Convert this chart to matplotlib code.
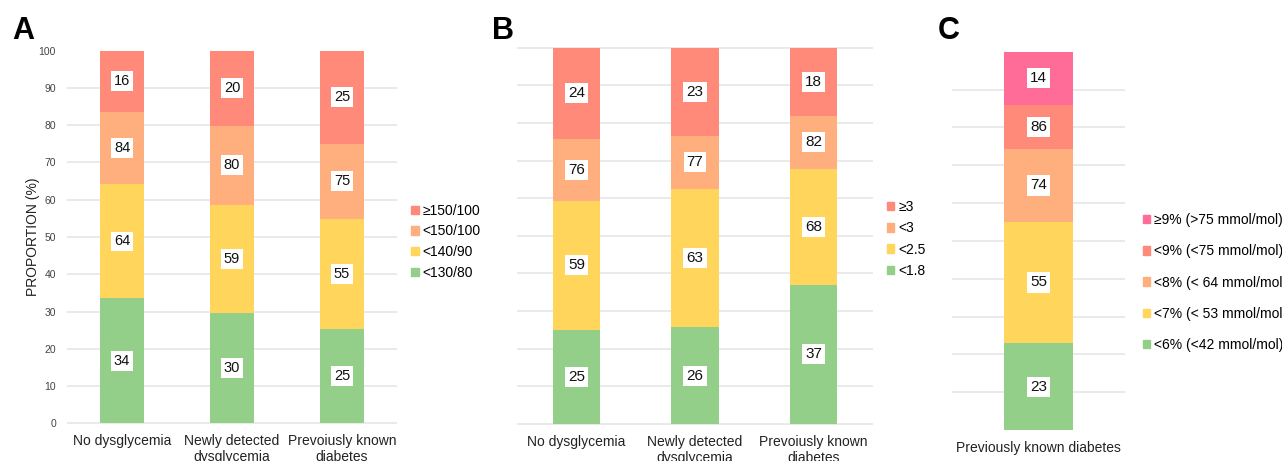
import matplotlib
matplotlib.use("Agg")
import matplotlib.pyplot as plt
from matplotlib.patches import Patch

plt.rcParams["font.family"] = ["Liberation Sans", "DejaVu Sans"]

# ------------------------------------------------
# Data (cumulative tops of each stacked segment, %)
# ------------------------------------------------
groups = ["No dysglycemia", "Newly detected\ndysglycemia", "Prevoiusly known\ndiabetes"]

# A: blood pressure
bp_names = ["<130/80", "<140/90", "<150/100", "\u2265150/100"]
bp_tops = [
    [33.5, 29.6, 25.3],
    [64.1, 58.7, 54.9],
    [83.6, 79.8, 75.0],
    [100, 100, 100],
]
bp_labels = [[34, 30, 25], [64, 59, 55], [84, 80, 75], [16, 20, 25]]

# B: LDL cholesterol
ldl_names = ["<1.8", "<2.5", "<3", "\u22653"]
ldl_tops = [
    [25.0, 25.7, 37.0],
    [59.3, 62.4, 67.8],
    [75.7, 76.6, 81.9],
    [100, 100, 100],
]
ldl_labels = [[25, 26, 37], [59, 63, 68], [76, 77, 82], [24, 23, 18]]

# C: HbA1c in previously known diabetes
c_group = ["Previously known diabetes"]
hba1c_names = ["<6% (<42 mmol/mol)", "<7% (< 53 mmol/mol)", "<8% (< 64 mmol/mol)",
               "<9% (<75 mmol/mol)", "\u22659% (>75 mmol/mol)"]
hba1c_tops = [22.9, 55.1, 74.2, 86.0, 100]
hba1c_labels = [23, 55, 74, 86, 14]

green, yellow, orange, red, pink = "#93CF89", "#FFD65B", "#FFAE7E", "#FF8A79", "#FF6C98"
grid_col = "#E4E4E4"


def stacked(ax, cats, tops, labels, colors, width, fs):
    x = list(range(len(cats)))
    bottom = [0] * len(cats)
    for top, labs, col in zip(tops, labels, colors):
        h = [t - b for t, b in zip(top, bottom)]
        ax.bar(x, h, width, bottom=bottom, color=col, zorder=2)
        for xi, b, hi, lab in zip(x, bottom, h, labs):
            ax.text(xi, b + hi / 2, str(lab), ha="center", va="center", fontsize=fs,
                    color="#111111", zorder=3,
                    bbox=dict(boxstyle="square,pad=0.2", fc="white", ec="none"))
        bottom = top
    ax.set_xlim(-0.5, len(cats) - 0.5)
    ax.set_ylim(0, 100)
    ax.set_xticks(x)
    ax.set_xticklabels(cats, fontsize=10, color="#222222", linespacing=1.15)
    ax.tick_params(axis="x", length=0, pad=8)
    for s in ax.spines.values():
        s.set_visible(False)


fig = plt.figure(figsize=(12.82, 4.61), dpi=100)

# ---- Panel A ----
axA = fig.add_axes([0.0523, 0.0818, 0.2574, 0.8083])
stacked(axA, groups, bp_tops, bp_labels, [green, yellow, orange, red], 0.4, 10.5)
axA.hlines(range(0, 100, 10), -0.5, 2.5, color=grid_col, lw=1.1, zorder=1, clip_on=False)
axA.set_yticks(range(0, 101, 10))
axA.tick_params(axis="y", length=0, pad=8, labelsize=7.5, labelcolor="#444444")
axA.set_ylabel("PROPORTION (%)", fontsize=10, color="#222222", labelpad=-1)
handles = [Patch(color=c, label=n) for c, n in zip([red, orange, yellow, green], bp_names[::-1])]
fig.legend(handles=handles, loc="center left", bbox_to_anchor=(0.3205, 0.4755), frameon=False,
           fontsize=10, handlelength=0.55, handleheight=0.55, handletextpad=0.3,
           labelspacing=0.48, borderpad=0, borderaxespad=0)

# ---- Panel B ----
axB = fig.add_axes([0.4033, 0.0803, 0.2777, 0.8163])
stacked(axB, groups, ldl_tops, ldl_labels, [green, yellow, orange, red], 0.4, 11)
axB.hlines(range(0, 101, 10), -0.5, 2.5, color=grid_col, lw=1.1, zorder=1, clip_on=False)
axB.set_yticks([])
handles = [Patch(color=c, label=n) for c, n in zip([red, orange, yellow, green], ldl_names[::-1])]
fig.legend(handles=handles, loc="center left", bbox_to_anchor=(0.6915, 0.4816), frameon=False,
           fontsize=10, handlelength=0.55, handleheight=0.55, handletextpad=0.3,
           labelspacing=0.52, borderpad=0, borderaxespad=0)

# ---- Panel C ----
axC = fig.add_axes([0.7424, 0.0672, 0.1352, 0.8206])
stacked(axC, c_group, [[t] for t in hba1c_tops], [[l] for l in hba1c_labels],
        [green, yellow, orange, red, pink], 0.4, 11)
axC.hlines(range(10, 100, 10), -0.5, 0.5, color=grid_col, lw=1.1, zorder=1)
axC.set_yticks([])
handles = [Patch(color=c, label=n) for c, n in zip([pink, red, orange, yellow, green], hba1c_names[::-1])]
fig.legend(handles=handles, loc="center left", bbox_to_anchor=(0.8913, 0.3872), frameon=False,
           fontsize=10, handlelength=0.55, handleheight=0.55, handletextpad=0.3,
           labelspacing=1.24, borderpad=0, borderaxespad=0)

# panel letters
for xf, letter in [(0.0095, "A"), (0.3835, "B"), (0.7315, "C")]:
    fig.text(xf, 0.9154, letter, fontsize=22, fontweight="bold", va="baseline")

fig.savefig("out.png", dpi=100)
